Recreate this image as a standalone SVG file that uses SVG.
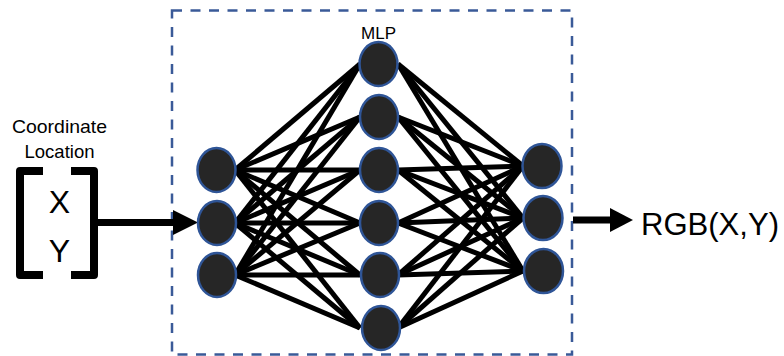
<svg xmlns="http://www.w3.org/2000/svg" width="784" height="356" viewBox="0 0 784 356">
  <defs>
    <style>
      .lbl { font-family: "Liberation Sans", Arial, sans-serif; fill: #000; }
      .node { fill: #262626; stroke: #2F5597; stroke-width: 2.5; }
      .edge { stroke: #000; stroke-width: 5; }
      .frame { fill: none; stroke: #3A5A98; stroke-width: 2.5; stroke-dasharray: 10 8.5; }
      .bracket { fill: none; stroke: #000; stroke-width: 8; stroke-linejoin: round; }
      .arrow { stroke: #000; stroke-width: 7; }
    </style>
  </defs>

  <!-- MLP boundary -->
  <rect class="frame" x="172" y="10.5" width="400" height="344"/>
  <text class="lbl" x="378.5" y="39" font-size="17" text-anchor="middle">MLP</text>

  <!-- input vector -->
  <g id="input">
    <text class="lbl" x="59.5" y="133" font-size="18.5" text-anchor="middle" textLength="95" lengthAdjust="spacingAndGlyphs">Coordinate</text>
    <text class="lbl" x="59.5" y="158" font-size="18.5" text-anchor="middle">Location</text>
    <path class="bracket" d="M43,171 H20 V275 H43"/>
    <path class="bracket" d="M71,171 H94 V275 H71"/>
    <text class="lbl" x="59.5" y="213" font-size="32" text-anchor="middle">X</text>
    <text class="lbl" x="59.5" y="262" font-size="32" text-anchor="middle">Y</text>
  </g>

  <!-- weights -->
  <g id="connectors">
    <!-- input layer to hidden layer -->
    <g class="edge">
      <line x1="235" y1="170" x2="360" y2="64"/>
      <line x1="235" y1="170" x2="360" y2="117"/>
      <line x1="235" y1="170" x2="360" y2="170"/>
      <line x1="235" y1="170" x2="360" y2="223"/>
      <line x1="235" y1="170" x2="360" y2="275"/>
      <line x1="235" y1="170" x2="360" y2="328"/>
      <line x1="235" y1="223" x2="360" y2="64"/>
      <line x1="235" y1="223" x2="360" y2="117"/>
      <line x1="235" y1="223" x2="360" y2="170"/>
      <line x1="235" y1="223" x2="360" y2="223"/>
      <line x1="235" y1="223" x2="360" y2="275"/>
      <line x1="235" y1="223" x2="360" y2="328"/>
      <line x1="235" y1="275" x2="360" y2="64"/>
      <line x1="235" y1="275" x2="360" y2="117"/>
      <line x1="235" y1="275" x2="360" y2="170"/>
      <line x1="235" y1="275" x2="360" y2="223"/>
      <line x1="235" y1="275" x2="360" y2="275"/>
      <line x1="235" y1="275" x2="360" y2="328"/>
    </g>
    <!-- hidden layer to output layer -->
    <g class="edge">
      <line x1="398" y1="64" x2="523" y2="166"/>
      <line x1="398" y1="64" x2="523" y2="218"/>
      <line x1="398" y1="64" x2="523" y2="271"/>
      <line x1="398" y1="117" x2="523" y2="166"/>
      <line x1="398" y1="117" x2="523" y2="218"/>
      <line x1="398" y1="117" x2="523" y2="271"/>
      <line x1="398" y1="170" x2="523" y2="166"/>
      <line x1="398" y1="170" x2="523" y2="218"/>
      <line x1="398" y1="170" x2="523" y2="271"/>
      <line x1="398" y1="223" x2="523" y2="166"/>
      <line x1="398" y1="223" x2="523" y2="218"/>
      <line x1="398" y1="223" x2="523" y2="271"/>
      <line x1="398" y1="275" x2="523" y2="166"/>
      <line x1="398" y1="275" x2="523" y2="218"/>
      <line x1="398" y1="275" x2="523" y2="271"/>
      <line x1="398" y1="328" x2="523" y2="166"/>
      <line x1="398" y1="328" x2="523" y2="218"/>
      <line x1="398" y1="328" x2="523" y2="271"/>
    </g>
    <!-- data flow in and out -->
    <line class="arrow" x1="98" y1="222.5" x2="175" y2="222.5"/>
    <polygon points="173,210 198,222.5 173,235" fill="#000"/>
    <line class="arrow" x1="573" y1="220" x2="612" y2="220"/>
    <polygon points="610,208 633,220 610,232" fill="#000"/>
  </g>

  <!-- input layer -->
  <g id="layer-in">
    <ellipse class="node" cx="216.5" cy="170" rx="19" ry="22"/>
    <ellipse class="node" cx="217" cy="223" rx="19" ry="22"/>
    <ellipse class="node" cx="217" cy="275" rx="19" ry="22"/>
  </g>

  <!-- hidden layer -->
  <g id="layer-hidden">
    <ellipse class="node" cx="378.5" cy="64" rx="19" ry="22"/>
    <ellipse class="node" cx="379" cy="117" rx="19" ry="22"/>
    <ellipse class="node" cx="379" cy="170" rx="19" ry="22"/>
    <ellipse class="node" cx="379" cy="223" rx="19" ry="22"/>
    <ellipse class="node" cx="380" cy="275" rx="19" ry="22"/>
    <ellipse class="node" cx="381" cy="328" rx="19" ry="22"/>
  </g>

  <!-- output layer -->
  <g id="layer-out">
    <ellipse class="node" cx="542" cy="166" rx="19.5" ry="22"/>
    <ellipse class="node" cx="543" cy="218" rx="19.5" ry="22"/>
    <ellipse class="node" cx="543.5" cy="271" rx="19.5" ry="22"/>
  </g>

  <g id="output">
    <text class="lbl" x="641" y="235" font-size="31" textLength="138" lengthAdjust="spacingAndGlyphs">RGB(X,Y)</text>
  </g>
</svg>
